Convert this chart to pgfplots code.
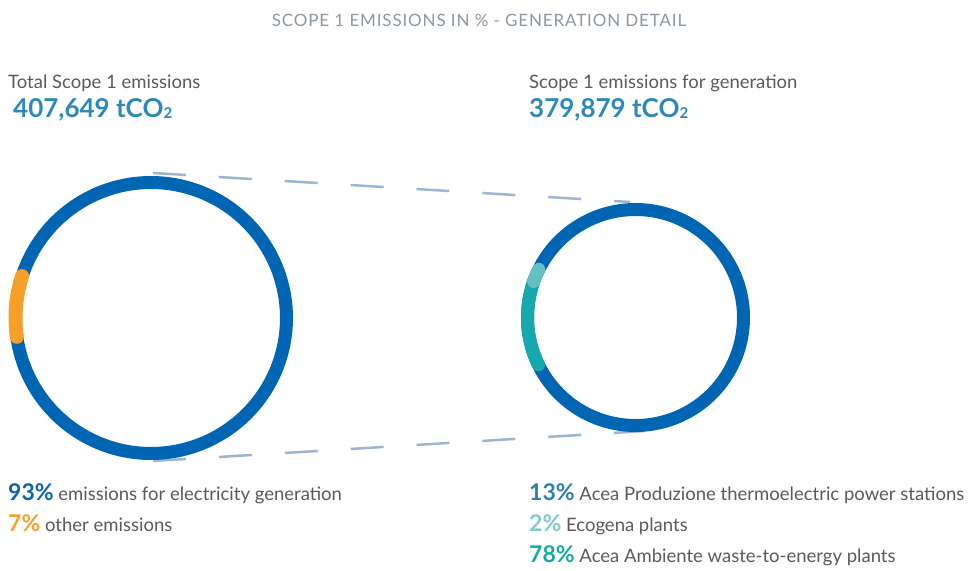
\documentclass[border=0pt]{standalone}
\usepackage{pgfplots}
\pgfplotsset{compat=1.18}
\usepackage{fontspec}
\setmainfont{Lato}
\definecolor{ringblue}{HTML}{0066B3}
\definecolor{ringorange}{HTML}{F6A02B}
\definecolor{ringteal}{HTML}{15A8AC}
\definecolor{ringlteal}{HTML}{64C0C1}
\definecolor{dashcol}{HTML}{9CB6D2}
\definecolor{titlegray}{HTML}{8C97A3}
\definecolor{txtgray}{HTML}{5A5A5A}
\definecolor{numblue}{HTML}{2E88BA}
\definecolor{pctblue}{HTML}{0C64AE}
\definecolor{pctblueb}{HTML}{2D80B2}
\definecolor{pctlteal}{HTML}{7FCACB}
\definecolor{pctteal}{HTML}{17A9AA}
\newcommand{\bodyf}{\fontsize{18.5}{22}\selectfont}
\newcommand{\numf}{\fontsize{26}{30}\selectfont\bfseries}
\newcommand{\subtwo}{\raisebox{-1pt}{\fontsize{15}{15}\selectfont 2}}
\begin{document}
\begin{tikzpicture}
\useasboundingbox (0,0) rectangle (968pt,570pt);
\begin{axis}[at={(0,0)},anchor=south west,
  scale only axis, width=968pt, height=570pt,
  xmin=0, xmax=968, ymin=0, ymax=570,
  hide axis, clip=false]
% connector dashed lines
\addplot[dashcol, line width=2.5pt, dash pattern=on 33pt off 33pt] coordinates {(153,397) (630,368)};
\addplot[dashcol, line width=2.5pt, dash pattern=on 33pt off 33pt] coordinates {(153,109) (645,139)};
% left ring: 93% generation (blue), 7% other (orange)
\addplot[ringblue, line width=13pt, domain=0:361, samples=200, no markers, line join=round] ({151+135.5*cos(x)},{252+135.5*sin(x)});
\addplot[ringorange, line width=14pt, domain=162:188, samples=30, no markers, line cap=round] ({151+135.5*cos(x)},{252+135.5*sin(x)});
% right ring
\addplot[ringblue, line width=13pt, domain=0:361, samples=200, no markers, line join=round] ({635.5+108*cos(x)},{252.5+108*sin(x)});
\addplot[ringteal, line width=13pt, domain=159:206, samples=30, no markers, line cap=round] ({635.5+108*cos(x)},{252.5+108*sin(x)});
\addplot[ringlteal, line width=13pt, domain=153.5:160.5, samples=10, no markers, line cap=round] ({635.5+108*cos(x)},{252.5+108*sin(x)});
% texts
\node[anchor=base, text=titlegray, font=\fontsize{17}{20}\selectfont\addfontfeatures{LetterSpace=5}] at (axis cs:479,543) {SCOPE 1 EMISSIONS IN \% - GENERATION DETAIL};
\node[anchor=base west, inner sep=0pt, text=txtgray, font=\bodyf] at (axis cs:8,481) {Total Scope 1 emissions};
\node[anchor=base west, inner sep=0pt, text=numblue, font=\numf] at (axis cs:13,452) {407,649 tCO\subtwo};
\node[anchor=base west, inner sep=0pt, text=txtgray, font=\bodyf] at (axis cs:529,481) {Scope 1 emissions for generation};
\node[anchor=base west, inner sep=0pt, text=numblue, font=\numf] at (axis cs:529,452) {379,879 tCO\subtwo};
% left legend
\node[anchor=base west, inner sep=0pt, text=txtgray, font=\bodyf] at (axis cs:8,70) {{\fontsize{23}{26}\selectfont\bfseries\color{pctblue}93\%} emissions for electricity generation};
\node[anchor=base west, inner sep=0pt, text=txtgray, font=\bodyf] at (axis cs:8,39) {{\fontsize{23}{26}\selectfont\bfseries\color{ringorange}7\%} other emissions};
% right legend
\node[anchor=base west, inner sep=0pt, text=txtgray, font=\bodyf] at (axis cs:529,70) {{\fontsize{23}{26}\selectfont\bfseries\color{pctblueb}13\%} Acea Produzione thermoelectric power stations};
\node[anchor=base west, inner sep=0pt, text=txtgray, font=\bodyf] at (axis cs:529,39) {{\fontsize{23}{26}\selectfont\bfseries\color{pctlteal}2\%} Ecogena plants};
\node[anchor=base west, inner sep=0pt, text=txtgray, font=\bodyf] at (axis cs:529,8) {{\fontsize{23}{26}\selectfont\bfseries\color{pctteal}78\%} Acea Ambiente waste-to-energy plants};
\end{axis}
\end{tikzpicture}
\end{document}
